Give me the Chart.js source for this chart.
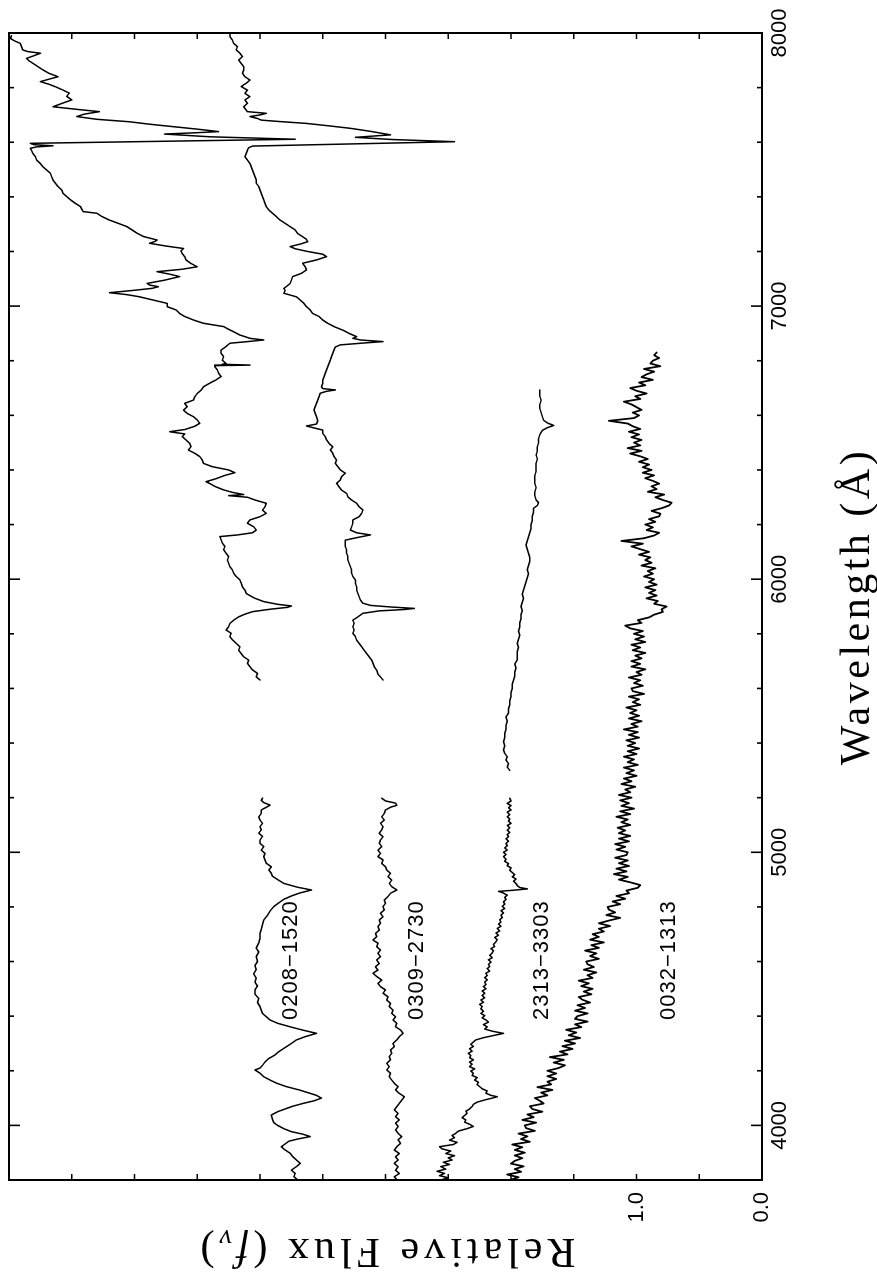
<!DOCTYPE html>
<html>
<head>
<meta charset="utf-8">
<title>Spectra</title>
<script src="https://cdn.jsdelivr.net/npm/chart.js@4.4.1/dist/chart.umd.min.js"></script>
<style>
html,body{margin:0;padding:0;background:#fff;overflow:hidden;}
#wrap{position:absolute;left:0;top:0;width:1278px;height:877px;transform-origin:0 0;transform:translate(0,1278px) rotate(-90deg);}
canvas{display:block;}
</style>
</head>
<body>
<div id="wrap"><canvas id="c" width="1278" height="877"></canvas></div>
<script>
// Axis ranges and ticks
const waveRange = [3800, 8000];
const fluxRange = [0, 6];
const waveTickLabels = [4000, 5000, 6000, 7000, 8000];
const fluxTickLabels = [0, 1];
const waveMinorStep = 200;
const fluxMinorStep = 0.5;

// Object names and where they are written (wavelength, relative flux)
const objectNames = ['0208\u22121520', '0309\u22122730', '2313\u22123303', '0032\u22121313'];
const objectLabelWave = 4605;
const objectLabelFlux = [3.75, 2.75, 1.75, 0.74];

// 0208-1520 : [wavelength, flux]
const s0208Blue = [[3800,3.70],[3812,3.73],[3824,3.72],[3836,3.75],[3849,3.71],[3861,3.68],[3873,3.71],[3886,3.74],[3898,3.76],[3910,3.80],[3922,3.83],[3932,3.80],[3942,3.77],[3950,3.70],[3959,3.60],[3968,3.66],[3977,3.75],[3988,3.81],[4000,3.86],[4010,3.89],[4022,3.90],[4038,3.91],[4050,3.86],[4060,3.80],[4070,3.74],[4080,3.66],[4090,3.57],[4100,3.51],[4110,3.55],[4120,3.62],[4130,3.69],[4142,3.79],[4155,3.87],[4166,3.92],[4178,3.97],[4191,4.00],[4203,4.04],[4210,4.00],[4220,3.98],[4232,3.96],[4245,3.93],[4258,3.88],[4270,3.85],[4285,3.80],[4300,3.75],[4313,3.71],[4325,3.64],[4337,3.55],[4349,3.66],[4361,3.76],[4374,3.86],[4386,3.92],[4398,3.95],[4410,3.98],[4422,3.99],[4435,4.00],[4450,4.02],[4465,4.01],[4480,4.04],[4496,4.04],[4510,4.02],[4525,4.04],[4540,4.03],[4555,4.05],[4570,4.03],[4585,4.04],[4600,4.02],[4618,4.03],[4635,4.01],[4650,4.03],[4668,4.01],[4685,4.00],[4703,4.00],[4718,3.99],[4735,3.98],[4752,3.97],[4770,3.94],[4785,3.92],[4801,3.89],[4815,3.85],[4828,3.81],[4840,3.75],[4850,3.69],[4862,3.59],[4872,3.70],[4886,3.81],[4900,3.86],[4912,3.90],[4923,3.91],[4935,3.93],[4947,3.91],[4960,3.95],[4972,3.96],[4984,3.97],[4996,3.96],[5008,3.99],[5021,3.97],[5033,4.00],[5045,4.00],[5058,3.98],[5070,4.01],[5082,3.99],[5094,4.00],[5106,3.98],[5118,4.00],[5130,4.01],[5142,3.99],[5155,3.99],[5165,3.95],[5173,3.92],[5182,3.97],[5190,3.99],[5198,3.98]];
const s0208Red = [[5631,4.00],[5642,4.03],[5655,4.02],[5668,4.06],[5680,4.08],[5692,4.10],[5704,4.09],[5716,4.13],[5728,4.15],[5740,4.17],[5752,4.16],[5765,4.19],[5778,4.22],[5790,4.24],[5802,4.23],[5814,4.27],[5826,4.25],[5838,4.24],[5850,4.21],[5862,4.17],[5872,4.12],[5881,4.06],[5890,3.92],[5897,3.78],[5902,3.75],[5908,3.86],[5918,3.97],[5930,4.04],[5940,4.08],[5948,4.11],[5960,4.12],[5972,4.14],[5985,4.15],[5997,4.16],[6010,4.19],[6022,4.21],[6034,4.22],[6046,4.24],[6058,4.25],[6070,4.26],[6083,4.25],[6095,4.27],[6108,4.29],[6120,4.28],[6132,4.30],[6144,4.31],[6156,4.32],[6162,4.18],[6170,4.06],[6180,4.03],[6192,4.05],[6205,4.10],[6217,4.08],[6229,4.00],[6241,3.95],[6253,3.98],[6265,3.96],[6278,3.95],[6290,4.04],[6300,4.10],[6306,4.25],[6310,4.13],[6318,4.22],[6327,4.29],[6340,4.36],[6350,4.40],[6357,4.43],[6368,4.35],[6380,4.28],[6390,4.20],[6400,4.25],[6412,4.38],[6424,4.45],[6436,4.46],[6449,4.48],[6461,4.52],[6473,4.57],[6485,4.55],[6497,4.56],[6510,4.59],[6522,4.62],[6532,4.60],[6540,4.72],[6548,4.60],[6560,4.52],[6571,4.48],[6583,4.50],[6595,4.53],[6607,4.58],[6619,4.61],[6632,4.58],[6644,4.60],[6656,4.53],[6668,4.52],[6680,4.50],[6692,4.47],[6705,4.45],[6718,4.40],[6730,4.35],[6742,4.31],[6754,4.33],[6766,4.34],[6778,4.36],[6782,4.36],[6784,4.08],[6787,4.30],[6790,4.27],[6802,4.30],[6815,4.29],[6827,4.31],[6839,4.31],[6852,4.27],[6864,4.24],[6870,4.10],[6876,3.97],[6882,4.08],[6894,4.16],[6906,4.21],[6915,4.25],[6925,4.29],[6937,4.45],[6949,4.53],[6962,4.60],[6973,4.64],[6986,4.67],[6998,4.74],[7010,4.74],[7022,4.85],[7034,4.96],[7042,5.06],[7049,5.20],[7058,5.00],[7065,4.86],[7071,4.81],[7077,4.88],[7083,4.90],[7095,4.76],[7108,4.64],[7117,4.72],[7126,4.82],[7135,4.62],[7144,4.50],[7156,4.55],[7169,4.59],[7181,4.60],[7193,4.62],[7202,4.63],[7211,4.61],[7220,4.75],[7230,4.88],[7236,4.84],[7242,4.82],[7255,4.93],[7267,4.98],[7279,5.02],[7291,5.06],[7303,5.13],[7315,5.20],[7328,5.26],[7340,5.30],[7346,5.41],[7355,5.42],[7364,5.43],[7376,5.47],[7389,5.51],[7401,5.54],[7413,5.57],[7425,5.58],[7438,5.61],[7450,5.63],[7462,5.65],[7474,5.66],[7486,5.67],[7498,5.70],[7510,5.73],[7522,5.75],[7535,5.78],[7547,5.79],[7559,5.81],[7569,5.82],[7578,5.83],[7583,5.78],[7587,5.65],[7591,5.80],[7596,5.83],[7611,3.72],[7620,4.40],[7630,4.76],[7635,4.50],[7639,4.33],[7648,4.50],[7657,4.69],[7666,4.88],[7675,5.04],[7684,5.30],[7694,5.46],[7703,5.40],[7712,5.28],[7720,5.45],[7730,5.65],[7742,5.58],[7755,5.50],[7768,5.54],[7780,5.52],[7791,5.57],[7803,5.63],[7812,5.68],[7822,5.75],[7831,5.68],[7840,5.61],[7852,5.68],[7865,5.73],[7877,5.77],[7889,5.81],[7898,5.84],[7907,5.86],[7917,5.80],[7926,5.75],[7932,5.85],[7938,5.89],[7950,5.90],[7962,5.91],[7972,5.96],[7980,5.99],[7990,5.98]];

// 0309-2730
const s0309Blue = [[3800,2.91],[3812,2.93],[3824,2.89],[3836,2.92],[3849,2.90],[3861,2.93],[3873,2.90],[3885,2.92],[3897,2.89],[3910,2.93],[3922,2.91],[3934,2.88],[3947,2.90],[3959,2.87],[3971,2.90],[3983,2.92],[3996,2.90],[4008,2.92],[4020,2.89],[4032,2.92],[4044,2.90],[4057,2.93],[4069,2.91],[4081,2.89],[4093,2.87],[4105,2.85],[4117,2.89],[4130,2.92],[4142,2.90],[4154,2.93],[4166,2.95],[4178,2.97],[4191,2.96],[4203,2.99],[4215,2.97],[4227,2.99],[4240,2.96],[4252,2.97],[4264,2.95],[4276,2.96],[4288,2.93],[4300,2.94],[4313,2.91],[4325,2.89],[4337,2.86],[4349,2.88],[4361,2.92],[4374,2.91],[4386,2.94],[4398,2.92],[4410,2.95],[4422,2.94],[4435,2.97],[4447,2.96],[4459,2.99],[4471,2.98],[4484,3.02],[4496,3.00],[4508,3.04],[4520,3.06],[4532,3.03],[4545,3.07],[4557,3.10],[4569,3.06],[4581,3.08],[4593,3.05],[4606,3.07],[4618,3.04],[4630,3.06],[4642,3.04],[4654,3.07],[4667,3.06],[4679,3.10],[4691,3.07],[4703,3.08],[4715,3.05],[4728,3.06],[4740,3.04],[4752,3.05],[4764,3.02],[4777,3.04],[4789,3.01],[4801,3.02],[4813,3.00],[4825,3.01],[4838,2.98],[4850,2.96],[4862,2.91],[4874,2.95],[4886,2.97],[4898,2.95],[4911,2.98],[4923,2.96],[4935,2.99],[4947,3.00],[4959,3.03],[4972,3.02],[4984,3.06],[4996,3.04],[5008,3.06],[5021,3.03],[5033,3.05],[5045,3.04],[5057,3.02],[5069,3.05],[5082,3.03],[5094,3.02],[5106,3.04],[5118,3.01],[5130,3.03],[5142,3.01],[5155,3.00],[5165,2.96],[5172,2.91],[5180,2.92],[5188,3.00],[5198,3.03]];
const s0309Red = [[5631,3.02],[5642,3.04],[5652,3.06],[5667,3.07],[5680,3.09],[5692,3.10],[5704,3.11],[5716,3.13],[5728,3.15],[5740,3.17],[5753,3.19],[5765,3.21],[5777,3.23],[5790,3.24],[5802,3.26],[5814,3.25],[5826,3.26],[5838,3.25],[5850,3.26],[5862,3.22],[5875,3.18],[5884,3.05],[5889,2.85],[5893,2.77],[5898,2.95],[5904,3.12],[5912,3.18],[5924,3.20],[5936,3.21],[5948,3.22],[5960,3.23],[5972,3.23],[5985,3.24],[5997,3.24],[6010,3.26],[6022,3.27],[6034,3.27],[6046,3.28],[6058,3.29],[6070,3.30],[6083,3.30],[6095,3.31],[6107,3.31],[6119,3.32],[6131,3.32],[6143,3.32],[6153,3.22],[6162,3.12],[6170,3.23],[6180,3.28],[6192,3.27],[6205,3.26],[6217,3.26],[6229,3.21],[6241,3.19],[6253,3.18],[6265,3.21],[6278,3.23],[6290,3.27],[6302,3.30],[6314,3.31],[6326,3.35],[6338,3.37],[6351,3.39],[6363,3.36],[6375,3.35],[6388,3.32],[6400,3.36],[6412,3.38],[6424,3.40],[6436,3.39],[6449,3.41],[6461,3.42],[6473,3.44],[6485,3.42],[6497,3.45],[6510,3.47],[6522,3.48],[6534,3.50],[6546,3.50],[6554,3.57],[6561,3.63],[6568,3.55],[6580,3.54],[6595,3.55],[6607,3.56],[6620,3.57],[6632,3.56],[6644,3.55],[6656,3.54],[6668,3.53],[6681,3.52],[6688,3.47],[6693,3.40],[6698,3.50],[6705,3.51],[6717,3.50],[6729,3.50],[6741,3.49],[6754,3.48],[6766,3.47],[6778,3.46],[6790,3.45],[6802,3.44],[6815,3.43],[6827,3.42],[6839,3.41],[6850,3.40],[6858,3.36],[6865,3.17],[6870,3.02],[6876,3.20],[6882,3.26],[6888,3.23],[6900,3.29],[6912,3.34],[6925,3.41],[6937,3.46],[6949,3.50],[6962,3.53],[6973,3.58],[6986,3.60],[6998,3.63],[7010,3.65],[7022,3.68],[7034,3.71],[7047,3.81],[7057,3.80],[7065,3.81],[7075,3.78],[7083,3.76],[7095,3.75],[7108,3.74],[7120,3.67],[7132,3.63],[7144,3.64],[7157,3.66],[7169,3.55],[7181,3.47],[7190,3.50],[7200,3.62],[7210,3.72],[7218,3.76],[7227,3.68],[7236,3.62],[7245,3.63],[7254,3.66],[7266,3.70],[7279,3.72],[7291,3.76],[7303,3.80],[7315,3.84],[7328,3.87],[7340,3.90],[7352,3.93],[7364,3.95],[7376,3.96],[7389,3.97],[7401,3.98],[7413,3.99],[7425,4.00],[7438,4.01],[7450,4.03],[7462,4.03],[7474,4.04],[7486,4.05],[7498,4.06],[7510,4.07],[7522,4.08],[7535,4.10],[7547,4.12],[7559,4.11],[7571,4.10],[7580,4.09],[7586,4.06],[7602,2.45],[7610,2.95],[7618,3.24],[7627,2.96],[7640,3.12],[7651,3.28],[7660,3.45],[7669,3.63],[7676,3.85],[7681,3.99],[7687,4.02],[7694,4.08],[7700,4.00],[7706,3.95],[7712,4.10],[7718,4.11],[7730,4.13],[7743,4.10],[7755,4.12],[7767,4.08],[7779,4.12],[7791,4.10],[7804,4.15],[7816,4.11],[7828,4.08],[7840,4.12],[7853,4.14],[7865,4.13],[7877,4.13],[7889,4.15],[7901,4.17],[7914,4.14],[7926,4.16],[7938,4.19],[7950,4.18],[7962,4.21],[7974,4.22],[7987,4.24],[7998,4.24]];

// 2313-3303
const s2313Blue = [[3800,2.56],[3808,2.50],[3816,2.57],[3824,2.53],[3832,2.59],[3840,2.52],[3849,2.56],[3857,2.49],[3865,2.54],[3873,2.47],[3881,2.50],[3889,2.45],[3897,2.52],[3906,2.48],[3914,2.55],[3922,2.57],[3930,2.46],[3938,2.43],[3946,2.49],[3955,2.45],[3963,2.47],[3971,2.44],[3979,2.42],[3988,2.35],[3996,2.30],[4004,2.33],[4012,2.37],[4020,2.36],[4028,2.39],[4036,2.37],[4044,2.35],[4052,2.36],[4060,2.33],[4069,2.31],[4077,2.30],[4085,2.27],[4093,2.21],[4101,2.14],[4105,2.11],[4110,2.16],[4118,2.20],[4126,2.19],[4134,2.23],[4142,2.25],[4150,2.27],[4158,2.26],[4166,2.29],[4175,2.27],[4183,2.31],[4191,2.30],[4199,2.32],[4207,2.29],[4215,2.33],[4224,2.31],[4232,2.33],[4240,2.30],[4248,2.33],[4256,2.32],[4264,2.34],[4272,2.31],[4281,2.33],[4289,2.30],[4297,2.32],[4305,2.30],[4313,2.28],[4321,2.22],[4329,2.14],[4337,2.06],[4345,2.15],[4353,2.21],[4361,2.19],[4369,2.22],[4378,2.18],[4386,2.20],[4394,2.23],[4402,2.21],[4410,2.24],[4418,2.22],[4427,2.24],[4435,2.23],[4443,2.25],[4451,2.22],[4459,2.24],[4467,2.21],[4476,2.23],[4484,2.21],[4492,2.23],[4500,2.20],[4508,2.22],[4516,2.20],[4525,2.21],[4533,2.19],[4541,2.21],[4549,2.19],[4557,2.20],[4565,2.17],[4574,2.19],[4582,2.17],[4590,2.18],[4598,2.16],[4606,2.18],[4614,2.15],[4623,2.17],[4631,2.15],[4639,2.14],[4647,2.16],[4655,2.13],[4663,2.14],[4672,2.12],[4680,2.11],[4688,2.13],[4696,2.10],[4704,2.12],[4712,2.09],[4721,2.11],[4729,2.08],[4737,2.10],[4745,2.08],[4753,2.09],[4761,2.07],[4770,2.08],[4778,2.06],[4786,2.08],[4794,2.05],[4802,2.07],[4810,2.05],[4819,2.06],[4827,2.04],[4835,2.05],[4843,2.03],[4851,2.06],[4857,2.10],[4861,1.98],[4866,1.87],[4871,1.93],[4878,1.95],[4886,1.96],[4894,1.98],[4902,1.96],[4910,1.99],[4918,1.97],[4926,1.99],[4934,2.01],[4943,2.00],[4951,2.03],[4959,2.02],[4967,2.05],[4975,2.04],[4984,2.06],[4992,2.04],[5000,2.06],[5008,2.03],[5016,2.05],[5024,2.03],[5032,2.04],[5041,2.02],[5049,2.04],[5057,2.02],[5065,2.03],[5073,2.01],[5081,2.03],[5090,2.01],[5098,2.03],[5106,2.00],[5114,2.02],[5122,2.01],[5130,2.03],[5138,2.01],[5147,2.03],[5155,2.00],[5163,2.02],[5171,2.00],[5179,2.03],[5188,2.00],[5198,2.01]];
const s2313Red = [[5300,2.01],[5312,2.03],[5325,2.02],[5338,2.04],[5350,2.03],[5362,2.05],[5375,2.06],[5390,2.05],[5405,2.06],[5420,2.05],[5435,2.05],[5450,2.04],[5465,2.04],[5480,2.03],[5495,2.04],[5510,2.02],[5525,2.02],[5540,2.01],[5555,2.01],[5570,2.00],[5585,2.00],[5600,1.99],[5615,1.99],[5630,1.98],[5645,1.97],[5660,1.97],[5675,1.96],[5690,1.97],[5705,1.95],[5720,1.95],[5735,1.95],[5750,1.94],[5765,1.95],[5780,1.94],[5795,1.93],[5810,1.94],[5825,1.93],[5840,1.93],[5855,1.92],[5870,1.92],[5885,1.91],[5900,1.92],[5915,1.91],[5930,1.90],[5945,1.91],[5960,1.90],[5975,1.89],[5990,1.88],[6005,1.87],[6020,1.86],[6035,1.87],[6050,1.86],[6065,1.85],[6080,1.85],[6095,1.86],[6110,1.87],[6125,1.88],[6140,1.87],[6155,1.86],[6170,1.85],[6185,1.84],[6200,1.84],[6215,1.83],[6230,1.83],[6245,1.82],[6260,1.82],[6270,1.79],[6280,1.78],[6290,1.80],[6305,1.81],[6320,1.81],[6335,1.80],[6350,1.81],[6365,1.81],[6380,1.81],[6395,1.80],[6410,1.80],[6425,1.80],[6440,1.79],[6455,1.80],[6470,1.79],[6485,1.79],[6500,1.78],[6515,1.78],[6530,1.77],[6545,1.75],[6555,1.71],[6563,1.66],[6572,1.71],[6582,1.74],[6595,1.75],[6610,1.76],[6625,1.77],[6640,1.77],[6655,1.76],[6670,1.77],[6685,1.77],[6693,1.77]];

// 0032-1313 : flux sampled every 10 A from 3800 A (one row per 100 A)
const s0032Start = 3800;
const s0032Step = 10;
const s0032Flux = [
2.01,1.94,2.03,1.92,1.97,1.90,2.00,1.97,1.91,1.97,
1.89,1.97,1.91,1.99,1.85,1.92,1.87,1.94,1.81,1.88,
1.89,1.80,1.91,1.82,1.87,1.75,1.83,1.85,1.74,1.77,
1.81,1.71,1.76,1.67,1.79,1.68,1.71,1.64,1.71,1.64,
1.71,1.62,1.57,1.66,1.58,1.69,1.55,1.61,1.51,1.59,
1.49,1.57,1.45,1.54,1.48,1.56,1.44,1.49,1.39,1.49,
1.47,1.39,1.49,1.41,1.47,1.37,1.43,1.46,1.36,1.42,
1.35,1.44,1.38,1.46,1.35,1.39,1.32,1.42,1.34,1.39,
1.40,1.30,1.37,1.32,1.41,1.30,1.36,1.26,1.37,1.30,
1.35,1.26,1.30,1.21,1.30,1.22,1.13,1.24,1.17,1.22,
1.23,1.13,1.19,1.09,1.16,1.06,1.08,0.99,0.97,1.05,
1.14,1.07,1.18,1.08,1.16,1.06,1.14,1.07,1.17,1.08,
1.07,1.16,1.09,1.17,1.06,1.14,1.05,1.14,1.09,1.15,
1.05,1.12,1.07,1.16,1.05,1.13,1.02,1.12,1.06,1.13,
1.04,1.14,1.05,1.09,1.01,1.12,1.04,1.10,1.00,1.08,
1.02,1.10,0.99,1.07,1.02,1.10,1.00,1.07,0.98,1.07,
1.01,1.08,0.98,1.06,0.99,1.10,0.99,1.04,0.96,1.06,
0.98,1.05,1.00,1.08,0.97,1.03,0.98,1.06,0.94,1.03,
1.04,0.95,1.02,0.97,1.06,0.96,1.00,0.93,1.04,0.97,
1.04,0.96,1.01,0.93,1.03,0.97,1.04,0.93,1.01,0.94,
1.02,0.95,1.05,1.09,0.96,0.99,0.90,0.86,0.79,0.80,
0.76,0.86,0.83,0.92,0.84,0.90,0.85,0.93,0.84,0.90,
0.86,0.94,0.87,0.91,0.85,0.96,0.88,0.93,0.89,0.98,
0.90,0.97,1.04,0.95,1.12,0.94,0.86,0.82,0.92,0.87,
0.93,0.85,0.90,0.82,0.81,0.88,0.80,0.74,0.72,0.79,
0.85,0.78,0.91,0.84,0.88,0.82,0.87,0.93,0.86,0.95,
0.88,0.95,0.90,0.98,0.91,0.97,1.05,0.96,1.07,0.97,
1.02,0.96,1.04,0.98,1.06,0.97,1.03,1.07,1.22,1.02,
0.98,1.03,0.96,1.00,1.04,1.10,0.97,1.01,0.92,1.00,
1.05,0.93,0.98,0.87,0.96,0.92,0.86,0.94,0.81,0.89,
0.87,0.82,0.86,0.84];

const toPoints = pairs => pairs.map(([w, f]) => ({x: w, y: f}));
const s0032Points = s0032Flux.map((f, i) => ({x: s0032Start + i * s0032Step, y: f}));

const thin = 1.5;
const thick = 1.8;
const line = (data, width) => ({
  data, borderColor: '#000', borderWidth: width, pointRadius: 0, fill: false,
  tension: 0, borderJoinStyle: 'round', borderCapStyle: 'round'
});

// Frame, inward ticks, axis titles and object names
const framePlugin = {
  id: 'frameAndText',
  afterDatasetsDraw(chart) {
    const {ctx, chartArea: a, scales: {x, y}} = chart;
    ctx.save();
    ctx.strokeStyle = '#000';
    ctx.fillStyle = '#000';
    ctx.lineWidth = 2;
    ctx.strokeRect(a.left, a.top, a.right - a.left, a.bottom - a.top);

    ctx.lineWidth = 1.6;
    ctx.beginPath();
    for (let w = waveRange[0] + waveMinorStep; w < waveRange[1]; w += waveMinorStep) {
      const px = x.getPixelForValue(w);
      const len = waveTickLabels.includes(w) ? 11 : 5;
      ctx.moveTo(px, a.bottom); ctx.lineTo(px, a.bottom - len);
      ctx.moveTo(px, a.top); ctx.lineTo(px, a.top + len);
    }
    for (let f = fluxRange[0] + fluxMinorStep; f < fluxRange[1]; f += fluxMinorStep) {
      const py = y.getPixelForValue(f);
      ctx.moveTo(a.left, py); ctx.lineTo(a.left + 6, py);
      ctx.moveTo(a.right, py); ctx.lineTo(a.right - 6, py);
    }
    ctx.stroke();

    // object names
    ctx.font = '22px "Liberation Sans", Arial, sans-serif';
    ctx.letterSpacing = '1px';
    ctx.textAlign = 'center';
    ctx.textBaseline = 'middle';
    const lx = x.getPixelForValue(objectLabelWave);
    objectNames.forEach((name, i) => {
      ctx.fillText(name, lx, y.getPixelForValue(objectLabelFlux[i]));
    });

    // wavelength title
    ctx.font = '42px "Liberation Serif", "Times New Roman", serif';
    ctx.letterSpacing = '3.5px';
    ctx.textAlign = 'center';
    ctx.textBaseline = 'alphabetic';
    ctx.fillText('Wavelength (\u00C5)', (a.left + a.right) / 2, 869);

    // flux title, rotated, with italic f and subscript nu
    ctx.letterSpacing = '5px';
    const parts = [
      {t: 'Relative Flux (', f: '42px "Liberation Serif", serif', dy: 0},
      {t: 'f', f: 'italic 42px "Liberation Serif", serif', dy: 0},
      {t: '\u03BD', f: 'italic 28px "Liberation Serif", serif', dy: 9},
      {t: ')', f: '42px "Liberation Serif", serif', dy: 0}
    ];
    let total = 0;
    parts.forEach(p => { ctx.font = p.f; p.w = ctx.measureText(p.t).width; total += p.w; });
    ctx.translate(25, (a.top + a.bottom) / 2);
    ctx.rotate(-Math.PI / 2);
    ctx.textAlign = 'left';
    let cx = -total / 2;
    parts.forEach(p => { ctx.font = p.f; ctx.fillText(p.t, cx, 14 + p.dy); cx += p.w; });
    ctx.restore();
  }
};

new Chart(document.getElementById('c'), {
  type: 'line',
  data: {
    datasets: [
      line(toPoints(s0208Blue), thin),
      line(toPoints(s0208Red), thin),
      line(toPoints(s0309Blue), thin),
      line(toPoints(s0309Red), thin),
      line(toPoints(s2313Blue), thin),
      line(toPoints(s2313Red), thin),
      line(s0032Points, thick)
    ]
  },
  options: {
    responsive: false,
    animation: false,
    devicePixelRatio: 1,
    layout: {padding: {top: 9, right: 33, bottom: 0, left: 0}},
    plugins: {legend: {display: false}, tooltip: {enabled: false}, title: {display: false}},
    scales: {
      x: {
        type: 'linear', position: 'bottom', min: waveRange[0], max: waveRange[1],
        grid: {display: false, drawTicks: false}, border: {display: false},
        afterBuildTicks: s => { s.ticks = waveTickLabels.map(v => ({value: v})); },
        afterFit: s => { s.height = 115; s.paddingLeft = 0; s.paddingRight = 0; },
        ticks: {
          autoSkip: false, maxRotation: 0, padding: 5, color: '#000',
          font: {family: '"Liberation Sans", Arial, sans-serif', size: 22},
          callback: v => String(v)
        }
      },
      y: {
        type: 'linear', position: 'left', min: fluxRange[0], max: fluxRange[1],
        grid: {display: false, drawTicks: false}, border: {display: false},
        afterBuildTicks: s => { s.ticks = fluxTickLabels.map(v => ({value: v})); },
        afterFit: s => { s.width = 98; s.paddingTop = 0; s.paddingBottom = 0; },
        ticks: {
          autoSkip: false, padding: 12, color: '#000',
          font: {family: '"Liberation Sans", Arial, sans-serif', size: 22},
          callback: v => v.toFixed(1)
        }
      }
    }
  },
  plugins: [framePlugin]
});
</script>
</body>
</html>
